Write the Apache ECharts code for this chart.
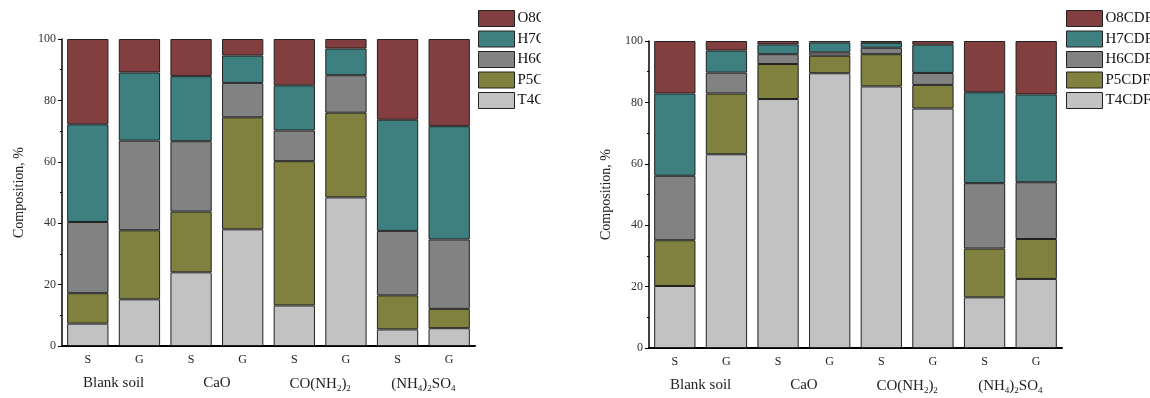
<!DOCTYPE html>
<html>
<head>
<meta charset="utf-8">
<script src="https://cdn.jsdelivr.net/npm/echarts@6/dist/echarts.min.js"></script>
<style>
    body { margin:0; background:#fff; }
    #left { position:absolute; left:0; top:0; width:541px; height:398px; }
    #right { position:absolute; left:541px; top:0; width:609px; height:398px; }
</style>
</head>
<body>
<div id="left"></div>
<div id="right"></div>
<script>
    // bars: S / G sample for each treatment
    let samples = ['S','G','S','G','S','G','S','G'];
    let groups = ['Blank soil','CaO','CO(NH{s|2}){s|2}','(NH{s|4}){s|2}SO{s|4}'];
    let yTicks = [0,20,40,60,80,100];

    // PCDD homologue composition, %
    let ddNames = ['T4CDD','P5CDD','H6CDD','H7CDD','O8CDD'];
    let ddT4 = [7.3, 15.2, 24.0, 38.0, 13.2, 48.4, 5.4, 5.8];
    let ddP5 = [9.9, 22.5, 19.8, 36.5, 47.0, 27.6, 11.1, 6.3];
    let ddH6 = [23.2, 29.2, 22.9, 11.2, 10.0, 12.2, 21.0, 22.6];
    let ddH7 = [31.8, 22.2, 21.2, 8.9, 14.7, 8.7, 36.2, 36.9];
    let ddO8 = [27.8, 10.9, 12.1, 5.4, 15.1, 3.1, 26.3, 28.4];

    // PCDF homologue composition, %
    let dfNames = ['T4CDF','P5CDF','H6CDF','H7CDF','O8CDF'];
    let dfT4 = [20.2, 63.1, 81.1, 89.5, 85.2, 78.0, 16.5, 22.5];
    let dfP5 = [14.9, 19.8, 11.4, 5.7, 10.5, 7.7, 15.9, 13.0];
    let dfH6 = [21.0, 6.8, 3.2, 1.1, 2.1, 3.9, 21.3, 18.5];
    let dfH7 = [26.8, 7.2, 3.2, 3.2, 1.6, 9.2, 29.6, 28.6];
    let dfO8 = [17.1, 3.1, 1.1, 0.5, 0.6, 1.2, 16.7, 17.4];

    let colors = ['#c2c2c2','#80803f','#828282','#3e7f7f','#833f3f'];
    let font = 'Liberation Serif';

    function makeOption (names, values, grid, legendLeft) {
        let series = names.map(function (n, i) {
            return {
                name: n,
                type: 'bar',
                stack: 'total',
                barCategoryGap: '20%',
                itemStyle: {
                    color: colors[i],
                    borderColor: '#222',
                    borderWidth: 1
                },
                data: values[i]
            };
        });
        return {
            animation: false,
            textStyle: { fontFamily: font },
            legend: {
                orient: 'vertical',
                left: legendLeft,
                top: 5,
                itemWidth: 36,
                itemHeight: 16,
                itemGap: 3.5,
                icon: 'rect',
                itemStyle: { borderColor: '#222', borderWidth: 1 },
                textStyle: { fontFamily: font, fontSize: 15, lineHeight: 16, color: '#111', padding: [0,0,0,-2] },
                data: names.slice().reverse()
            },
            grid: grid,
            xAxis: [
                {
                    type: 'category',
                    data: samples,
                    axisLine: { lineStyle: { color: '#000', width: 2 } },
                    axisTick: { show: false },
                    axisLabel: { fontFamily: font, fontSize: 12, color: '#222', margin: 8 }
                },
                {
                    type: 'category',
                    data: groups,
                    position: 'bottom',
                    offset: 22,
                    axisLine: { show: false },
                    axisTick: { show: false },
                    axisLabel: {
                        interval: 0,
                        fontFamily: font, fontSize: 15, color: '#222',
                        rich: { s: { fontFamily: font, fontSize: 9, padding: [8,0,0,0], color: '#222' } }
                    }
                }
            ],
            yAxis: {
                type: 'value',
                min: yTicks[0],
                max: yTicks[yTicks.length - 1],
                interval: 20,
                name: 'Composition, %',
                nameLocation: 'middle',
                nameGap: 36,
                nameTextStyle: { fontFamily: font, fontSize: 14, color: '#222' },
                axisLine: { show: true, lineStyle: { color: '#000', width: 1.5 } },
                axisTick: { show: true, length: 4, lineStyle: { color: '#000' } },
                minorTick: { show: true, splitNumber: 2, length: 2, lineStyle: { color: '#000' } },
                splitLine: { show: false },
                axisLabel: { fontFamily: font, fontSize: 12, color: '#333', margin: 6 }
            },
            series: series
        };
    }

    let leftChart = echarts.init(document.getElementById('left'));
    leftChart.setOption(makeOption(ddNames, [ddT4, ddP5, ddH6, ddH7, ddO8],
        { left: 62, right: 66, top: 39, bottom: 52 }, 473));

    let rightChart = echarts.init(document.getElementById('right'));
    rightChart.setOption(makeOption(dfNames, [dfT4, dfP5, dfH6, dfH7, dfO8],
        { left: 108, right: 88, top: 41, bottom: 50 }, 520));
</script>
</body>
</html>
